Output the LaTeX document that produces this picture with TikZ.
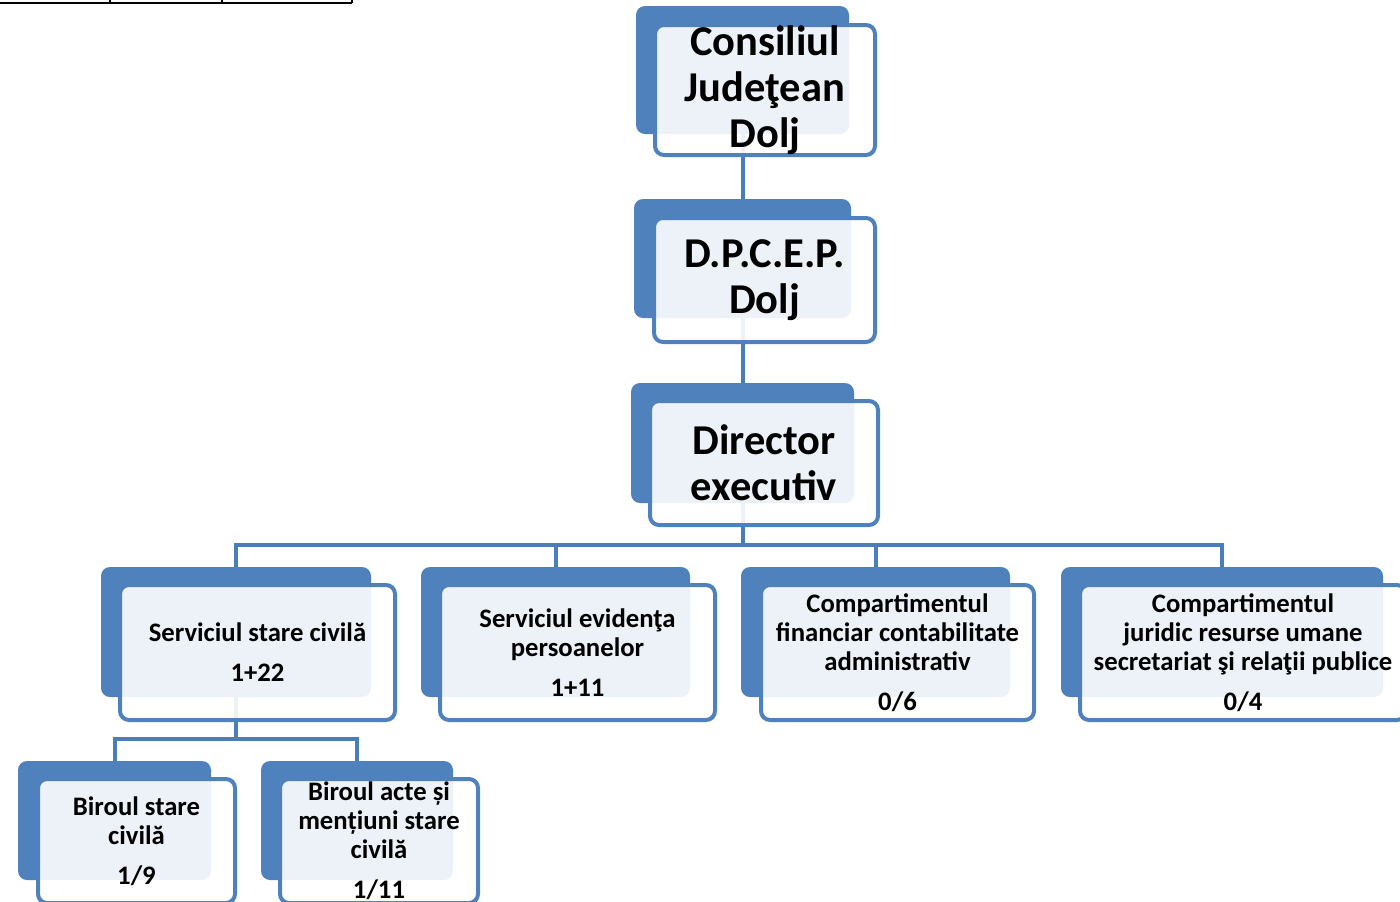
\documentclass[tikz,border=0pt]{standalone}
\usepackage{fontspec}
\setmainfont{Carlito}
\definecolor{blue1}{HTML}{4F81BD}
\definecolor{conncol}{HTML}{4A7EBB}
\tikzset{
  backbox/.style={fill=blue1, draw=none, rounded corners=9pt, inner sep=0pt, outer sep=0pt},
  frontbox/.style={draw=blue1, line width=4pt, fill=white, fill opacity=0.9, draw opacity=1, text opacity=1,
    rounded corners=9pt, inner sep=0pt, outer sep=0pt, align=center, text=black},
  bigtxt/.style={font=\fontsize{42.5}{46}\selectfont\bfseries},
  smalltxt/.style={font=\fontsize{26.7}{29}\selectfont\bfseries},
  conn/.style={draw=conncol, line width=4pt},
}
\begin{document}
\begin{tikzpicture}[x=1pt,y=-1pt]
\useasboundingbox (0,0) rectangle (1400,902);
% table fragment at top left
\draw[line width=2pt] (0,3) -- (352,3);
\foreach \xx in {110,222,352} \draw[line width=2pt] (\xx,0) -- (\xx,3);

% back boxes (nodes)
\node[backbox, minimum width=213pt, minimum height=128pt] (cjb) at (742.5,70) {};
\node[backbox, minimum width=217pt, minimum height=119pt] (dpb) at (742.5,258.5) {};
\node[backbox, minimum width=223pt, minimum height=120pt] (dirb) at (742.5,443) {};
\node[backbox, minimum width=270pt, minimum height=130pt] (ab) at (236,632) {};
\node[backbox, minimum width=269pt, minimum height=130pt] (bb) at (555.5,632) {};
\node[backbox, minimum width=269pt, minimum height=130pt] (cb) at (875.5,632) {};
\node[backbox, minimum width=322pt, minimum height=130pt] (db) at (1222,632) {};
\node[backbox, minimum width=193pt, minimum height=119pt] (eb) at (114.5,820.5) {};
\node[backbox, minimum width=192pt, minimum height=119pt] (fb) at (357,820.5) {};

% connectors
\coordinate (bus) at (742.5,545);
\coordinate (bus2) at (236,739);
\draw[conn] (cjb.south) -- (dpb.north);
\draw[conn] (dpb.south) -- (dirb.north);
\draw[conn] (dirb.south) -- (bus);
\draw[conn] (bus) -| (ab.north);
\draw[conn] (bus) -| (bb.north);
\draw[conn] (bus) -| (cb.north);
\draw[conn] (bus) -| (db.north);
\draw[conn] (ab.south) -- (bus2);
\draw[conn] (bus2) -| (eb.north);
\draw[conn] (bus2) -| (fb.north);

% front boxes with text
\node[frontbox, bigtxt, minimum width=220pt, minimum height=130pt] (cj) at (765,90) {Consiliul\\Judeţean\\Dolj};
\node[frontbox, bigtxt, minimum width=221pt, minimum height=124pt] (dp) at (764.5,280) {D.P.C.E.P.\\Dolj};
\node[frontbox, bigtxt, minimum width=228pt, minimum height=124pt] (dir) at (764,463) {Director\\executiv};
\node[frontbox, smalltxt, minimum width=275pt, minimum height=135pt] (a) at (257.5,652.5) {Serviciul stare civilă\\[11pt]1+22};
\node[frontbox, smalltxt, minimum width=275pt, minimum height=135pt] (b) at (577.5,652.5) {Serviciul evidenţa\\persoanelor\\[11pt]1+11};
\node[frontbox, smalltxt, minimum width=273pt, minimum height=135pt] (c) at (897.5,652.5) {Compartimentul\\financiar contabilitate\\administrativ\\[11pt]0/6};
\node[frontbox, smalltxt, minimum width=326pt, minimum height=135pt] (d) at (1243,652.5) {Compartimentul\\juridic resurse umane\\secretariat şi relaţii publice\\[11pt]0/4};
\node[frontbox, smalltxt, minimum width=197pt, minimum height=124pt] (e) at (136.5,841) {Biroul stare\\civilă\\[11pt]1/9};
\node[frontbox, smalltxt, minimum width=198pt, minimum height=124pt] (f) at (379,841) {Biroul acte și\\mențiuni stare\\civilă\\[11pt]1/11};
\end{tikzpicture}
\end{document}
